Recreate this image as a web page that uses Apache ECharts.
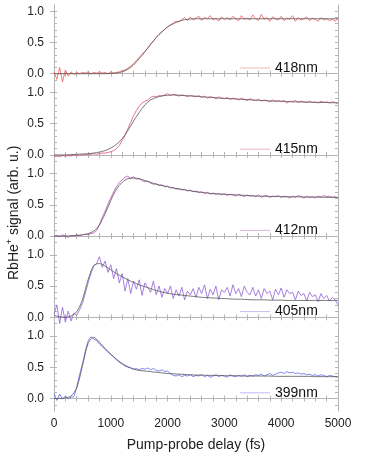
<!DOCTYPE html>
<html>
<head>
<meta charset="utf-8">
<script src="https://cdn.jsdelivr.net/npm/echarts@6/dist/echarts.min.js"></script>
<style>
html,body{margin:0;padding:0;background:#fff}
#chart{width:374px;height:457px}
</style>
</head>
<body>
<div id="chart"></div>
<script>
// wavelengths, top panel first
const wavelengths = ['418nm', '415nm', '412nm', '405nm', '399nm'];
const lineColors = ['#f05a5a', '#e2507a', '#b452b4', '#9060d8', '#6666ee'];
const legendColors = ['#f7b4b4', '#f2b0c4', '#deb0de', '#cbbcef', '#bcbcf8'];
const dataStep = 50;   // fs between measured points
const fitStep = 100;   // fs between fit points

// measured signal, 0..5000 fs
const sig418 = [0.03,-0.09,0.10,-0.13,0.06,-0.04,0.03,-0.01,0.02,0.00,
  0.02,0.01,0.03,0.00,0.02,0.01,0.03,0.01,0.02,0.00,
  0.03,0.01,0.02,0.03,0.05,0.06,0.09,0.12,0.16,0.21,
  0.26,0.31,0.36,0.41,0.47,0.52,0.58,0.63,0.67,0.71,
  0.75,0.78,0.81,0.84,0.83,0.87,0.90,0.85,0.91,0.86,
  0.89,0.92,0.85,0.90,0.88,0.93,0.86,0.89,0.84,0.91,
  0.87,0.90,0.86,0.92,0.88,0.85,0.93,0.87,0.89,0.86,
  0.94,0.88,0.85,0.95,0.87,0.90,0.84,0.91,0.88,0.86,
  0.92,0.85,0.89,0.87,0.93,0.84,0.90,0.86,0.88,0.91,
  0.85,0.89,0.87,0.84,0.90,0.86,0.88,0.85,0.87,0.84,
  0.89];
const sig415 = [-0.03,-0.02,-0.03,-0.01,-0.02,-0.01,-0.02,0.00,-0.01,0.00,
  0.00,0.01,0.00,0.01,0.02,0.01,0.02,0.03,0.03,0.04,
  0.05,0.07,0.10,0.15,0.23,0.31,0.42,0.52,0.63,0.71,
  0.78,0.83,0.86,0.88,0.92,0.94,0.93,0.95,0.94,0.96,
  0.98,0.95,0.97,0.96,0.94,0.96,0.95,0.93,0.95,0.94,
  0.93,0.95,0.92,0.94,0.91,0.93,0.92,0.90,0.93,0.91,
  0.90,0.92,0.89,0.91,0.90,0.88,0.91,0.89,0.87,0.90,
  0.88,0.87,0.89,0.86,0.88,0.87,0.85,0.88,0.86,0.87,
  0.85,0.87,0.83,0.86,0.85,0.87,0.84,0.86,0.85,0.84,
  0.86,0.84,0.85,0.83,0.86,0.84,0.85,0.83,0.85,0.84,
  0.82];
const sig412 = [0.00,0.01,-0.01,0.02,0.00,-0.02,0.01,0.00,0.02,0.01,
  0.02,0.03,0.02,0.04,0.05,0.09,0.18,0.30,0.40,0.51,
  0.61,0.71,0.79,0.86,0.90,0.94,0.96,0.92,0.95,0.91,
  0.92,0.89,0.87,0.88,0.85,0.83,0.84,0.81,0.82,0.79,
  0.80,0.77,0.78,0.75,0.76,0.74,0.75,0.72,0.74,0.71,
  0.72,0.70,0.71,0.68,0.70,0.67,0.69,0.67,0.68,0.66,
  0.68,0.65,0.67,0.66,0.64,0.67,0.65,0.63,0.66,0.64,
  0.65,0.63,0.66,0.62,0.64,0.65,0.62,0.64,0.63,0.65,
  0.62,0.64,0.63,0.61,0.64,0.62,0.65,0.63,0.61,0.64,
  0.62,0.63,0.61,0.64,0.62,0.65,0.63,0.64,0.62,0.63,
  0.61];
const sig405 = [0.05,0.20,-0.10,0.16,-0.08,0.10,-0.06,0.07,0.03,0.12,
  0.22,0.38,0.55,0.70,0.82,0.86,0.97,0.80,0.90,0.72,
  0.84,0.62,0.78,0.55,0.70,0.42,0.62,0.38,0.58,0.45,
  0.60,0.35,0.55,0.48,0.40,0.58,0.36,0.50,0.32,0.46,
  0.38,0.50,0.30,0.44,0.34,0.48,0.28,0.42,0.36,0.46,
  0.32,0.48,0.38,0.52,0.30,0.45,0.36,0.50,0.28,0.44,
  0.40,0.48,0.34,0.52,0.38,0.46,0.33,0.50,0.40,0.36,
  0.48,0.34,0.44,0.30,0.46,0.38,0.42,0.28,0.45,0.36,
  0.47,0.32,0.44,0.38,0.40,0.28,0.42,0.35,0.38,0.26,
  0.40,0.33,0.36,0.25,0.38,0.30,0.35,0.26,0.32,0.28,
  0.20];
const sig399 = [0.08,-0.03,0.07,-0.01,0.04,0.00,0.02,0.03,0.18,0.38,
  0.55,0.75,0.92,0.99,0.95,0.93,0.87,0.83,0.79,0.74,
  0.71,0.66,0.62,0.58,0.55,0.52,0.50,0.49,0.47,0.48,
  0.46,0.48,0.47,0.49,0.46,0.48,0.45,0.44,0.46,0.43,
  0.44,0.40,0.37,0.36,0.38,0.35,0.37,0.36,0.38,0.35,
  0.37,0.36,0.38,0.35,0.37,0.34,0.36,0.38,0.35,0.37,
  0.36,0.34,0.38,0.36,0.35,0.37,0.36,0.38,0.35,0.37,
  0.36,0.38,0.37,0.39,0.36,0.38,0.40,0.37,0.39,0.41,
  0.42,0.40,0.43,0.41,0.42,0.40,0.41,0.39,0.40,0.38,
  0.39,0.37,0.38,0.36,0.38,0.37,0.35,0.37,0.36,0.35,
  0.34];

// fitted curves, 0..5000 fs
const fit418 = [0,0,0,0,0,0,0,0,0,0,
  0.005,0.01,0.03,0.07,0.14,0.24,0.35,0.47,0.58,0.67,
  0.75,0.80,0.84,0.865,0.875,0.88,0.88,0.88,0.88,0.88,
  0.88,0.88,0.88,0.88,0.88,0.88,0.88,0.88,0.88,0.88,
  0.88,0.88,0.88,0.88,0.88,0.88,0.88,0.88,0.88,0.88,
  0.88];
const fit415 = [0,0,0,0.005,0.01,0.015,0.02,0.03,0.045,0.07,
  0.11,0.17,0.26,0.39,0.54,0.68,0.80,0.88,0.92,0.945,
  0.955,0.96,0.955,0.95,0.945,0.94,0.93,0.925,0.92,0.91,
  0.905,0.90,0.895,0.89,0.885,0.88,0.875,0.87,0.865,0.86,
  0.86,0.855,0.85,0.85,0.845,0.845,0.84,0.84,0.84,0.835,
  0.835];
const fit412 = [0,0,0,0.005,0.01,0.02,0.04,0.08,0.18,0.36,
  0.57,0.75,0.86,0.92,0.93,0.92,0.89,0.86,0.83,0.81,
  0.79,0.77,0.755,0.74,0.725,0.71,0.70,0.69,0.68,0.675,
  0.67,0.665,0.66,0.655,0.65,0.645,0.64,0.64,0.635,0.635,
  0.63,0.63,0.63,0.63,0.625,0.625,0.625,0.625,0.62,0.62,
  0.62];
const fit405 = [0.03,0.01,0.00,0.02,0.09,0.28,0.60,0.83,0.86,0.82,
  0.76,0.70,0.65,0.60,0.56,0.52,0.49,0.46,0.43,0.405,
  0.385,0.37,0.36,0.35,0.34,0.33,0.32,0.315,0.31,0.305,
  0.30,0.295,0.29,0.29,0.285,0.28,0.28,0.28,0.275,0.275,
  0.275,0.27,0.27,0.27,0.27,0.27,0.27,0.27,0.27,0.27,
  0.27];
const fit399 = [0,0,0.01,0.04,0.17,0.52,0.88,0.98,0.90,0.80,
  0.71,0.63,0.56,0.51,0.47,0.45,0.44,0.43,0.42,0.41,
  0.40,0.395,0.39,0.385,0.38,0.375,0.375,0.37,0.37,0.37,
  0.365,0.365,0.365,0.36,0.36,0.36,0.36,0.36,0.36,0.355,
  0.355,0.355,0.355,0.355,0.355,0.355,0.35,0.35,0.35,0.35,
  0.35];

const yLabelTicks = [0, 0.5, 1.0];
const yMinorTicks = [-0.1, 0, 0.1, 0.2, 0.3, 0.4, 0.5, 0.6, 0.7, 0.8, 0.9, 1.0];

const signals = [sig418, sig415, sig412, sig405, sig399];
const fits = [fit418, fit415, fit412, fit405, fit399];

const FONT = 'Liberation Sans';
const axisGray = '#b4b4b4';
const panelTop = 5, panelH = 81.2, plotLeft = 54, plotW = 284;

const grids = [], xAxes = [], yAxes = [], series = [], legends = [];
wavelengths.forEach((wl, i) => {
  const top = panelTop + i * panelH;
  const last = i === wavelengths.length - 1;
  grids.push({ left: plotLeft, width: plotW, top: top, height: panelH });

  const xBase = {
    type: 'value', gridIndex: i, min: 0, max: 5000, interval: 1000,
    axisLine: { lineStyle: { color: axisGray, width: 1 } },
    axisTick: { inside: true, length: 3, lineStyle: { color: axisGray } },
    minorTick: { show: true, splitNumber: 5, length: 3, lineStyle: { color: axisGray } },
    splitLine: { show: false }
  };
  xAxes.push(Object.assign({}, xBase, {
    position: 'bottom',
    axisLabel: { show: last, formatter: v => String(v), color: '#222',
      fontFamily: FONT, fontSize: 12, margin: 7 },
    name: last ? 'Pump-probe delay (fs)' : '',
    nameLocation: 'middle', nameGap: 27,
    nameTextStyle: { color: '#222', fontFamily: FONT, fontSize: 14 }
  }));
  xAxes.push(Object.assign({}, xBase, { position: 'top', axisLabel: { show: false } }));

  const yBase = {
    type: 'value', gridIndex: i, min: -0.2, max: 1.1,
    axisLine: { lineStyle: { color: axisGray, width: 1 } },
    splitLine: { show: false }
  };
  // labelled left axis, major ticks outward
  yAxes.push(Object.assign({}, yBase, {
    position: 'left',
    axisLabel: { customValues: yLabelTicks, formatter: v => v.toFixed(1),
      color: '#222', fontFamily: FONT, fontSize: 12, margin: 10 },
    axisTick: { customValues: yLabelTicks, length: 4, lineStyle: { color: axisGray } }
  }));
  // left minor ticks inward
  yAxes.push(Object.assign({}, yBase, {
    position: 'left',
    axisLabel: { show: false },
    axisTick: { customValues: yMinorTicks, inside: true, length: 3, lineStyle: { color: axisGray } }
  }));
  // right frame with inward ticks
  yAxes.push(Object.assign({}, yBase, {
    position: 'right',
    axisLabel: { show: false },
    axisTick: { customValues: yMinorTicks, inside: true, length: 3, lineStyle: { color: axisGray } }
  }));

  series.push({
    name: wl, type: 'line', xAxisIndex: i * 2, yAxisIndex: i * 3,
    data: signals[i].map((v, k) => [k * dataStep, v]),
    showSymbol: false, lineStyle: { color: lineColors[i], width: 0.8 },
    itemStyle: { color: lineColors[i] }, animation: false
  });
  series.push({
    name: 'fit ' + wl, type: 'line', xAxisIndex: i * 2, yAxisIndex: i * 3,
    data: fits[i].map((v, k) => [k * fitStep, v]),
    showSymbol: false, smooth: 0.3, lineStyle: { color: '#555', width: 0.8 },
    animation: false, z: 3
  });

  legends.push({
    data: [{ name: wl, itemStyle: { color: legendColors[i], borderWidth: 0 } }],
    left: 240, top: top + 56, padding: 0, icon: 'rect', itemWidth: 30, itemHeight: 1,
    itemGap: 0, selectedMode: false,
    itemStyle: { borderWidth: 0 }, lineStyle: { width: 0 },
    textStyle: { color: '#111', fontFamily: FONT, fontSize: 14 }
  });
});

const chart = echarts.init(document.getElementById('chart'), null, { renderer: 'canvas' });
chart.setOption({
  backgroundColor: '#fff',
  animation: false,
  grid: grids,
  xAxis: xAxes,
  yAxis: yAxes,
  legend: legends,
  series: series,
  graphic: [{
    type: 'text', rotation: Math.PI / 2,
    x: 5, y: 280,
    style: {
      text: '{m|RbHe}{s|+}{m| signal (arb. u.)}',
      rich: {
        m: { fontFamily: FONT, fontSize: 14, fill: '#222', lineHeight: 18 },
        s: { fontFamily: FONT, fontSize: 9, fill: '#222', padding: [0, 0, 8, 0] }
      }
    }
  }]
});
</script>
</body>
</html>
